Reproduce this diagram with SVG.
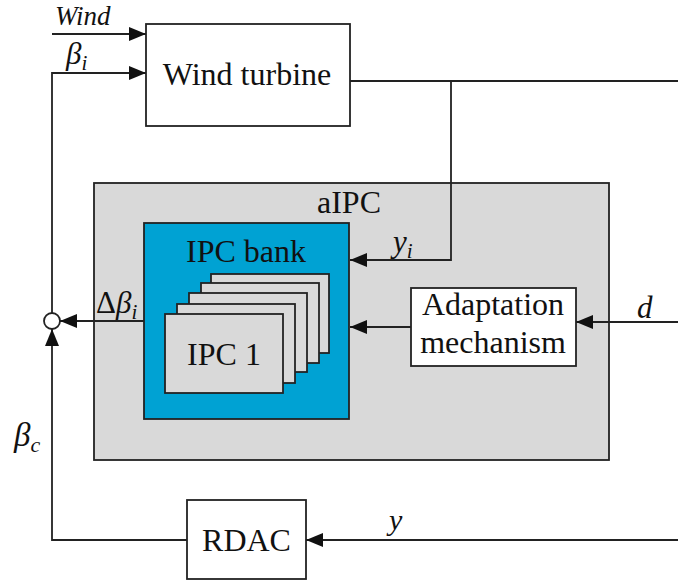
<svg xmlns="http://www.w3.org/2000/svg" width="678" height="580" viewBox="0 0 678 580">
<defs>
<marker id="ah" viewBox="0 0 17 14" refX="17" refY="7" markerWidth="17" markerHeight="14" markerUnits="userSpaceOnUse" orient="auto">
<path d="M0,0 L17,7 L0,14 z" fill="#111"/>
</marker>
</defs>
<style>
.box{stroke:#222;stroke-width:1.8}
.t{font-family:'Liberation Serif','DejaVu Serif',serif;font-size:32px;fill:#111}
.m{font-family:'Liberation Serif','DejaVu Serif',serif;font-style:italic;fill:#111}
.c{fill:none;stroke:#222;stroke-width:1.8}
</style>
<rect width="678" height="580" fill="#fff"/>
<g id="aIPC">
<rect class="box" x="94" y="183" width="515" height="277" fill="#d9d9d9"/>
<text class="t" x="349" y="213" text-anchor="middle">aIPC</text>
</g>
<g id="ipc-bank">
<rect class="box" x="144" y="223" width="205" height="196" fill="#00a2d3"/>
<text class="t" x="246" y="262" text-anchor="middle">IPC bank</text>
<rect class="box" x="211" y="274" width="118" height="79" fill="#d9d9d9"/>
<rect class="box" x="201" y="283" width="118" height="80" fill="#d9d9d9"/>
<rect class="box" x="189" y="293" width="118" height="79" fill="#d9d9d9"/>
<rect class="box" x="177" y="304" width="118" height="79" fill="#d9d9d9"/>
<rect class="box" x="165" y="314" width="118" height="79" fill="#d9d9d9"/>
<text class="t" x="224" y="365" text-anchor="middle">IPC 1</text>
</g>
<g id="wind-turbine">
<rect class="box" x="146" y="24" width="204" height="102" fill="#fff"/>
<text class="t" x="247" y="85" text-anchor="middle">Wind turbine</text>
</g>
<g id="adaptation">
<rect class="box" x="411" y="288" width="165" height="78" fill="#fff"/>
<text class="t" x="493" y="315" text-anchor="middle">Adaptation</text>
<text class="t" x="493" y="353" text-anchor="middle">mechanism</text>
</g>
<g id="rdac">
<rect class="box" x="187" y="500" width="119" height="79" fill="#fff"/>
<text class="t" x="246.500" y="551" text-anchor="middle">RDAC</text>
</g>
<g id="sum">
<circle cx="52" cy="321" r="8" fill="#fff" stroke="#222" stroke-width="1.8"/>
</g>
<g id="connectors">
<path class="c" d="M52,34 H146" marker-end="url(#ah)"/>
<path class="c" d="M52,313 V73 H146" marker-end="url(#ah)"/>
<path class="c" d="M350,81 H678"/>
<path class="c" d="M451,81 V260 H350" marker-end="url(#ah)"/>
<path class="c" d="M411,327 H350" marker-end="url(#ah)"/>
<path class="c" d="M678,322 H576" marker-end="url(#ah)"/>
<path class="c" d="M144,321 H60" marker-end="url(#ah)"/>
<path class="c" d="M187,540 H52 V329" marker-end="url(#ah)"/>
<path class="c" d="M678,540 H306" marker-end="url(#ah)"/>
</g>
<g id="labels">
<text class="m" x="55" y="25" font-size="27">Wind</text>
<text class="m" x="66" y="64" font-size="31">β<tspan font-size="21" dy="6">i</tspan></text>
<text class="m" x="393" y="252" font-size="31">y<tspan font-size="21" dy="6">i</tspan></text>
<text class="m" x="96" y="313" font-size="31"><tspan font-style="normal">Δ</tspan>β<tspan font-size="21" dy="6">i</tspan></text>
<text class="m" x="637" y="318" font-size="31">d</text>
<text class="m" x="14" y="446" font-size="33">β<tspan font-size="22" dy="6">c</tspan></text>
<text class="m" x="389" y="530" font-size="30">y</text>
</g>
</svg>
